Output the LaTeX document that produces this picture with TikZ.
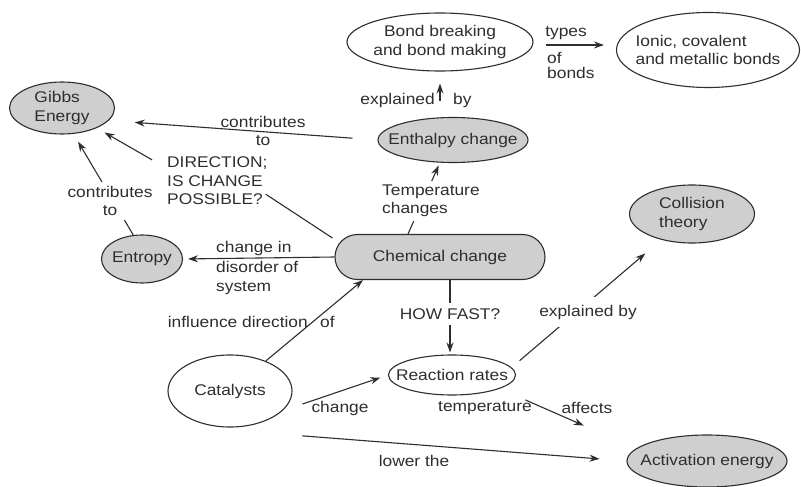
\documentclass[tikz,border=0pt]{standalone}
\usepackage{fontspec}
\setmainfont{Liberation Sans}[FakeStretch=1.12]
\usetikzlibrary{shapes.geometric,shapes.misc,arrows.meta}
\definecolor{ink}{HTML}{2E2E2E}
\definecolor{shade}{HTML}{CFCFCF}

\begin{document}
\begin{tikzpicture}[x=1pt,y=-1pt,
  every node/.style={font=\fontsize{15.5}{18.5}\selectfont, text=ink},
  concept/.style={ellipse, draw=ink, line width=1.1pt, inner sep=0pt},
  key/.style={concept, fill=shade},
  plain/.style={concept, fill=white},
  lbl/.style={inner sep=1pt, align=left},
  gap/.style={fill=white, inner sep=4pt, align=left},
  link/.style={draw=ink, line width=1.1pt},
  arr/.style={link, -{Stealth[length=10pt,width=7pt]}}]
\useasboundingbox[fill=white] (0,0) rectangle (801,487);

% concepts
\node[key, minimum width=105pt, minimum height=52pt,
      label={[lbl]center:Gibbs\\Energy}] (gibbs) at (62,108) {};
\node[plain, minimum width=186pt, minimum height=58pt,
      label={[lbl, align=center]center:Bond breaking\\and bond making}] (bond) at (440,42) {};
\node[plain, minimum width=183pt, minimum height=75pt,
      label={[lbl]center:Ionic, covalent\\and metallic bonds}] (ionic) at (708,50) {};
\node[key, minimum width=150pt, minimum height=45pt,
      label={[lbl]center:Enthalpy change}] (enth) at (453,140) {};
\node[key, rounded rectangle, minimum width=210pt, minimum height=45pt] (chem) at (440,257) {Chemical change};
\node[key, minimum width=81pt, minimum height=48pt,
      label={[lbl]center:Entropy}] (entropy) at (142,259) {};
\node[key, minimum width=125pt, minimum height=58pt,
      label={[lbl]center:Collision\\theory}] (coll) at (692,214) {};
\node[plain, minimum width=127pt, minimum height=40pt,
      label={[lbl]center:Reaction rates}] (rr) at (452,375) {};
\node[plain, minimum width=124pt, minimum height=72pt,
      label={[lbl]center:Catalysts}] (cat) at (230,391) {};
\node[key, minimum width=160pt, minimum height=52pt,
      label={[lbl]center:Activation energy}] (act) at (707,461) {};

\node[lbl, anchor=west] (dir) at (166,181) {DIRECTION;\\IS CHANGE\\POSSIBLE?};

% links around enthalpy and bonds
\draw[arr, shorten <=16pt, shorten >=12pt] (enth.north -| bond.south) -- (bond.south);
\node[lbl, anchor=east] at (436,100) {explained};
\node[lbl, anchor=west] at (452,100) {by};

\draw[arr, shorten <=12pt, shorten >=12pt] ([yshift=-3pt]bond.east) -- ([yshift=5pt]ionic.west);
\node[lbl] at (566,33) {types};
\node[lbl, anchor=north west, font=\fontsize{15.5}{15}\selectfont] at (546,51) {of\\bonds};

% links into Gibbs energy
\draw[arr, shorten <=25pt, shorten >=26pt] (enth.west) -- (gibbs.-15);
\node[lbl, align=center] at (263,131) {contributes\\to};

\draw[arr, shorten >=9pt] ([shift={(-14pt,-4pt)}]dir.north west) -- (gibbs.-30);

\draw[arr, shorten >=9pt] (entropy.110) -- (gibbs.-66);
\node[gap, align=center] at (110,201) {contributes\\to};

\draw[link] ([shift={(-2pt,19pt)}]chem.west) -- ([shift={(-3pt,12pt)}]dir.south east);

% links out of chemical change
\draw[arr, shorten >=3pt] ([xshift=-32pt]chem.north) -- (enth.240);
\node[gap, anchor=west] at (378,201) {Temperature\\changes};

\draw[arr, shorten >=5pt] (chem.west) -- (entropy.east);
\node[lbl, anchor=west, font=\fontsize{15.5}{19.5}\selectfont] at (215,268) {change in\\disorder of\\system};

\coordinate (howpos) at (450,314);
\draw[arr, shorten >=2pt] (chem.south -| howpos) -- (rr.north -| howpos);
\node[gap, inner ysep=6pt] (how) at (howpos) {HOW FAST?};

% links out of catalysts
\draw[arr] (cat.40) -- ([xshift=-77pt]chem.south);
\node[lbl, anchor=east] at (309,322) {influence direction};
\node[lbl, anchor=west] at (319,322) {of};

\draw[arr, shorten >=8pt] ([shift={(10pt,-13pt)}]cat.east) -- (rr.west);
\node[lbl] at (340,408) {change};

\draw[arr, shorten >=27pt] ([shift={(28pt,-19pt)}]cat.south east) -- (act.west);
\node[lbl] at (414,461) {lower the};

% links out of reaction rates
\draw[arr, shorten <=2pt, shorten >=21pt] ([shift={(2pt,13pt)}]rr.east) -- (coll.220);
\node[gap, inner ysep=8pt] at (588,312) {explained by};

\draw[arr, shorten <=28pt, shorten >=57pt] (rr.-16) -- (act.170);
\node[lbl] at (485,408) {temperature};
\node[lbl] at (587,408) {affects};
\end{tikzpicture}
\end{document}
